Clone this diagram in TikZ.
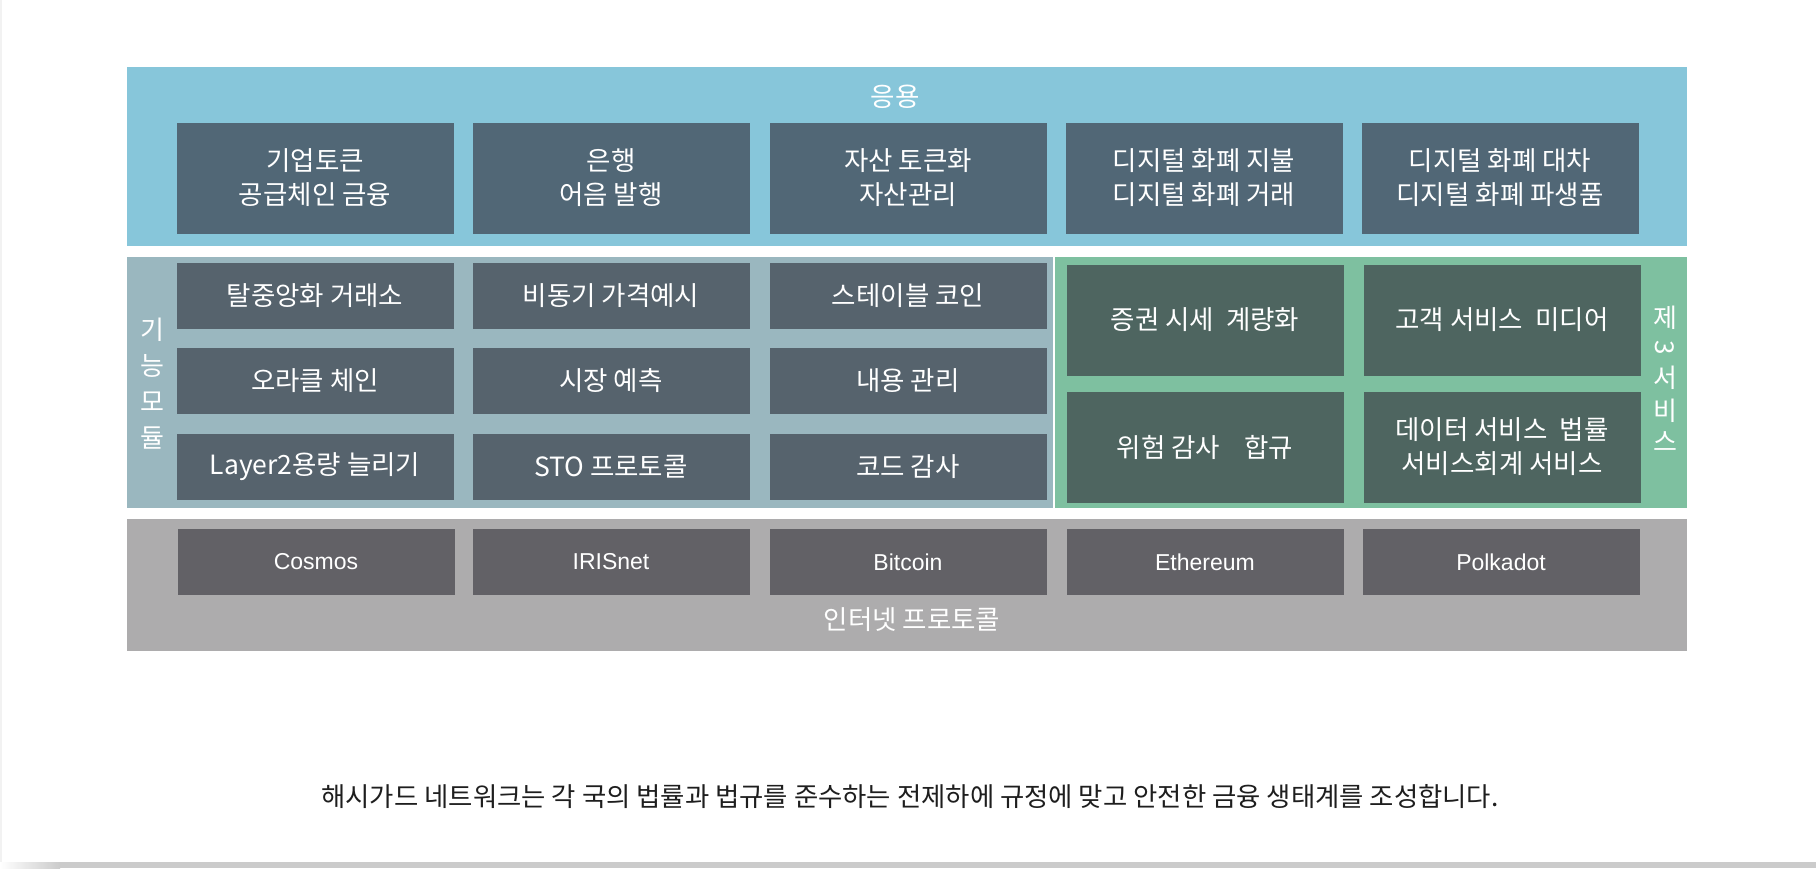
\documentclass[tikz,border=0pt]{standalone}
\usepackage{fontspec}
\setmainfont{Noto Sans CJK KR}
\newfontfamily\latinfont{Liberation Sans}
\usepackage{graphicx}

\definecolor{appband}{HTML}{87C6DA}
\definecolor{appdark}{HTML}{516776}
\definecolor{modband}{HTML}{9AB7BF}
\definecolor{moddark}{HTML}{56636D}
\definecolor{svcband}{HTML}{7EC0A0}
\definecolor{svcdark}{HTML}{4E6560}
\definecolor{netband}{HTML}{ADACAD}
\definecolor{netdark}{HTML}{626166}
\definecolor{shadowgray}{HTML}{CBCBCB}
\definecolor{captiontext}{HTML}{1E1E1E}

\begin{document}
\begin{tikzpicture}[x=1pt,y=-1pt,
  box/.style={minimum width=277pt,inner sep=0pt,text=white,align=center,font=\fontsize{26.5}{34}\selectfont},
  appbox/.style={box,fill=appdark,minimum height=111pt},
  modbox/.style={box,fill=moddark,minimum height=66pt},
  svcbox/.style={box,fill=svcdark,minimum height=111pt},
  chainbox/.style={box,fill=netdark,minimum height=66pt,font=\latinfont\fontsize{23}{28}\selectfont},
  bandtitle/.style={text=white,font=\fontsize{26.5}{30}\selectfont},
  sidelabel/.style={text=white,align=center,inner sep=0pt,font=\fontsize{26}{36}\selectfont}]
\useasboundingbox (0,0) rectangle (1816,868);
% page and its shadow
\fill[white] (0,0) rectangle (1816,868);
\fill[black!5] (0,0) rectangle (2,862);
\shade[left color=white,right color=shadowgray] (0,862) rectangle (60,868);
\fill[shadowgray] (60,862) rectangle (1816,868);

% bands
\fill[appband] (127,67) rectangle (1687,246);
\fill[modband] (127,257) rectangle (1053,508);
\fill[svcband] (1055,257) rectangle (1687,508);
\fill[netband] (127,519) rectangle (1687,651);

% application layer
\node (apptitle) at (895,97) [bandtitle] {응용};
\node (app1) at (315,178) [appbox] {기업토큰\\공급체인 금융};
\node (app2) at (611,178) [appbox] {은행\\어음 발행};
\node (app3) at (908,178) [appbox] {자산 토큰화\\자산관리};
\node (app4) at (1204,178) [appbox] {디지털 화폐 지불\\디지털 화폐 거래};
\node (app5) at (1500,178) [appbox] {디지털 화폐 대차\\디지털 화폐 파생품};

% function modules
\node (modtitle) at (152,384) [sidelabel] {기\\능\\모\\듈};
\node (mod11) at (315,296) [modbox] {탈중앙화 거래소};
\node (mod12) at (611,296) [modbox] {비동기 가격예시};
\node (mod13) at (908,296) [modbox] {스테이블 코인};
\node (mod21) at (315,381) [modbox] {오라클 체인};
\node (mod22) at (611,381) [modbox] {시장 예측};
\node (mod23) at (908,381) [modbox] {내용 관리};
\node (mod31) at (315,467) [modbox] {Layer2용량 늘리기};
\node (mod32) at (611,467) [modbox] {STO 프로토콜};
\node (mod33) at (908,467) [modbox] {코드 감사};

% third party services
\node (svctitle1) at (1665,318) [sidelabel] {제};
\node (svctitle2) at (1665,348) [sidelabel] {\rotatebox{-90}{3}};
\node (svctitle3) at (1665,378) [sidelabel] {서};
\node (svctitle4) at (1665,411) [sidelabel] {비};
\node (svctitle5) at (1665,442) [sidelabel] {스};
\node (svc1) at (1205,320) [svcbox] {증권 시세\hspace{12pt}계량화};
\node (svc2) at (1502,320) [svcbox] {고객 서비스\hspace{12pt}미디어};
\node (svc3) at (1205,447) [svcbox] {위험 감사\hspace{24pt}합규};
\node (svc4) at (1502,447) [svcbox] {데이터 서비스\hspace{12pt}법률\\서비스회계 서비스};

% internet protocols
\node (net1) at (316,562) [chainbox] {Cosmos};
\node (net2) at (611,562) [chainbox] {IRISnet};
\node (net3) at (908,562) [chainbox] {Bitcoin};
\node (net4) at (1205,562) [chainbox] {Ethereum};
\node (net5) at (1501,562) [chainbox] {Polkadot};
\node (nettitle) at (912,620) [bandtitle] {인터넷 프로토콜};

\node (caption) at (910,797) [text=captiontext,font=\fontsize{26.4}{30}\selectfont] {해시가드 네트워크는 각 국의 법률과 법규를 준수하는 전제하에 규정에 맞고 안전한 금융 생태계를 조성합니다.};
\end{tikzpicture}
\end{document}
